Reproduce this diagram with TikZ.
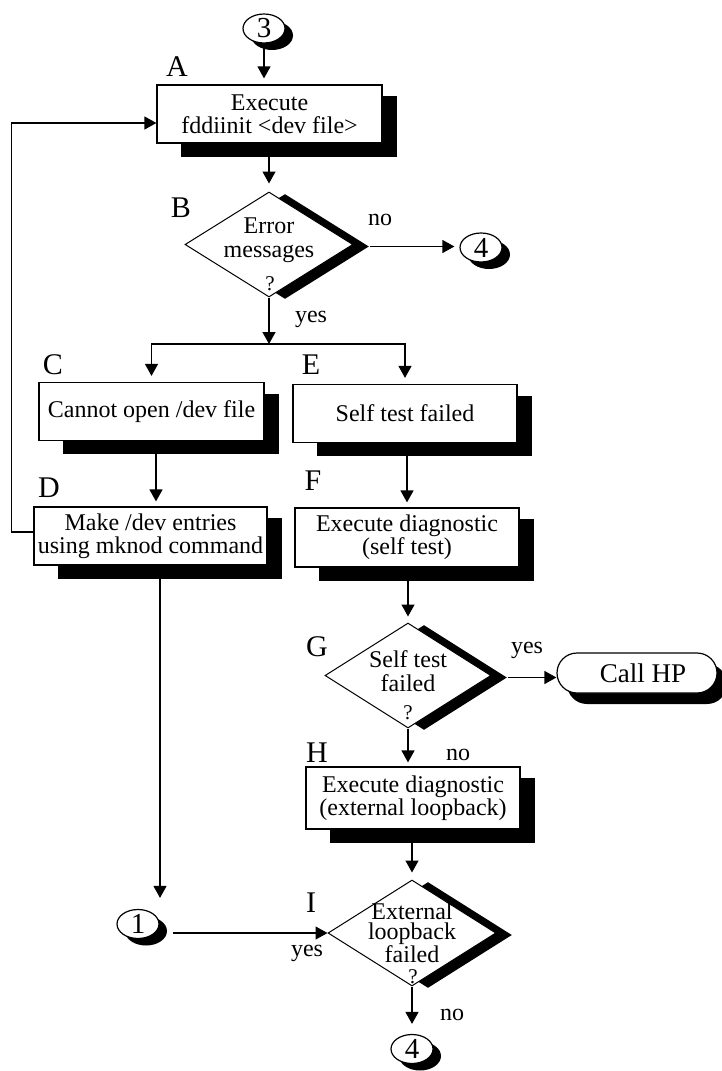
\documentclass[tikz,border=0pt]{standalone}
\usepackage{fontspec}
\setmainfont{Liberation Serif}
\usetikzlibrary{arrows.meta,shapes.geometric,shapes.misc,calc,backgrounds,shadows}

\begin{document}
\begin{tikzpicture}[x=1pt,y=-1pt,
  stepbox/.style={draw, line width=1.2pt, fill=white, minimum width=225pt,
    minimum height=58pt, inner sep=0pt, align=center,
    font=\fontsize{24}{23}\selectfont},
  decision/.style={diamond, draw, line width=1pt, fill=white,
    minimum width=168pt, minimum height=105pt, inner sep=0pt,
    drop shadow={shadow xshift=16pt, shadow yshift=-2pt, fill=black, opacity=1}},
  conn/.style={ellipse, draw, line width=1.2pt, fill=white,
    minimum width=42pt, minimum height=29pt, inner sep=0pt,
    font=\fontsize{29}{29}\selectfont,
    drop shadow={shadow xshift=8pt, shadow yshift=-7pt, fill=black, opacity=1}},
  term/.style={rounded rectangle, draw, line width=1.2pt, fill=white,
    minimum width=160pt, minimum height=40pt, inner sep=0pt,
    font=\fontsize{27}{27}\selectfont,
    drop shadow={shadow xshift=10pt, shadow yshift=-11pt, fill=black, opacity=1}},
  dtext/.style={align=center, inner sep=0pt, font=\fontsize{24}{24}\selectfont},
  qmark/.style={inner sep=0pt, font=\fontsize{21}{21}\selectfont},
  lbl/.style={anchor=base, inner sep=0pt, font=\fontsize{30}{30}\selectfont},
  ans/.style={anchor=base, inner sep=0pt, font=\fontsize{24}{24}\selectfont},
  arr/.style={line width=1.3pt, shorten >=6pt, -{Triangle[length=12pt,width=13pt]}},
]
\useasboundingbox (0,0) rectangle (721,1071);

% ---- nodes ----
\node[conn] (c3) at (264,28.5) {3};
\node[stepbox] (A) at (269.5,114) {Execute\\fddiinit <dev file>};
\node[decision] (B) at (269,244.5) {};
\node[conn] (c4a) at (481,247.5) {4};
\node[stepbox] (C) at (151.5,411.5) {Cannot open /dev file};
\node[stepbox, minimum width=224pt] (E) at (405,413.5) {Self test failed};
\node[stepbox, minimum width=233pt] (D) at (150.5,536) {Make /dev entries\\using mknod command};
\node[stepbox, minimum width=224pt, minimum height=59pt] (F) at (407,537.5) {Execute diagnostic\\(self test)};
\node[decision, minimum width=166pt] (G) at (408,675.5) {};
\node[term] (hp) at (637,673) {\hspace*{12pt}Call HP};
\node[stepbox, minimum width=214pt, minimum height=62pt] (H) at (413,798) {Execute diagnostic\\(external loopback)};
\node[decision, minimum height=106pt] (I) at (412,933) {};
\node[conn] (c1) at (138,924) {1};
\node[conn] (c4b) at (412,1049) {4};

% ---- texts inside the decisions ----
\node[dtext] (Bt) at (269,240) {Error\\messages};
\node[qmark] (Bq) at (270,284) {?};
\node[dtext] (Gt) at (408,671) {Self test\\failed};
\node[qmark] (Gq) at (408,713) {?};
\node[dtext, font=\fontsize{24}{20}\selectfont] (It) at (412,933) {External\\loopback\\failed};
\node[qmark] (Iq) at (413,977) {?};

% ---- step letters ----
\node[lbl] (lA) at (177,76) {A};
\node[lbl] (lB) at (181,217) {B};
\node[lbl] (lC) at (53,374) {C};
\node[lbl] (lD) at (49,497) {D};
\node[lbl] (lE) at (311,374) {E};
\node[lbl] (lF) at (313,490) {F};
\node[lbl] (lG) at (317,656) {G};
\node[lbl] (lH) at (317,762) {H};
\node[lbl] (lI) at (311,912) {I};

% ---- answers ----
\node[ans] (nB) at (380,225) {no};
\node[ans] (yB) at (311,322) {yes};
\node[ans] (yG) at (527,653) {yes};
\node[ans] (nG) at (458,760) {no};
\node[ans] (yI) at (307,956) {yes};
\node[ans] (nI) at (452,1020) {no};

% ---- box shadows ----
\begin{pgfonlayer}{background}
  \foreach \b in {A,C,E,D,F,H}{
    \fill ($(\b.north west)+(25,12)$) rectangle ($(\b.south east)+(14,13)$);
  }
\end{pgfonlayer}

% ---- connectors ----
\coordinate (split) at (269,344);
\coordinate (bout) at ($(B.east)+(16,2)$);
\coordinate (gout) at ($(G.east)+(16,2)$);

\draw[arr] (c3.south) -- (c3.south |- A.north);
\draw[arr, shorten >=8pt] (A.south -| B.north) -- (B.north);
\draw[arr, shorten >=5pt] (bout) -- (bout -| c4a.west);
\draw[arr, shorten >=0pt] (B.south) -- (split);
\draw[arr] (split) -| (C.north);
\draw[arr] (split) -| (E.north);
\draw[arr, shorten >=5pt] ($(C.south)+(4.5,0)$) -- ($(D.north)+(5.5,0)$);
\draw[arr, shorten >=5pt] (F.north |- E.south) -- (F.north);
\draw[arr] (F.south -| G.north) -- (G.north);
\draw[arr, shorten >=0pt] (gout) -- (gout -| hp.west);
\draw[arr, shorten >=4pt] (G.south) -- (G.south |- H.north);
\draw[arr, shorten >=7pt] (H.south -| I.north) -- (I.north);
\draw[arr, shorten >=10pt] (I.south) -- (I.south |- c4b.north);
\draw[arr, shorten >=11pt] ($(D.south)+(9.5,0)$) -- ($(c1.north)+(22,0)$);
\draw[arr, shorten >=0pt] ($(c1.east)+(13,9)$) -- (I.west);
\draw[arr, shorten >=0pt] ($(D.west)+(0,-4)$) -- ++(-22,0) |- ($(A.west)+(0,9)$);
\end{tikzpicture}
\end{document}
